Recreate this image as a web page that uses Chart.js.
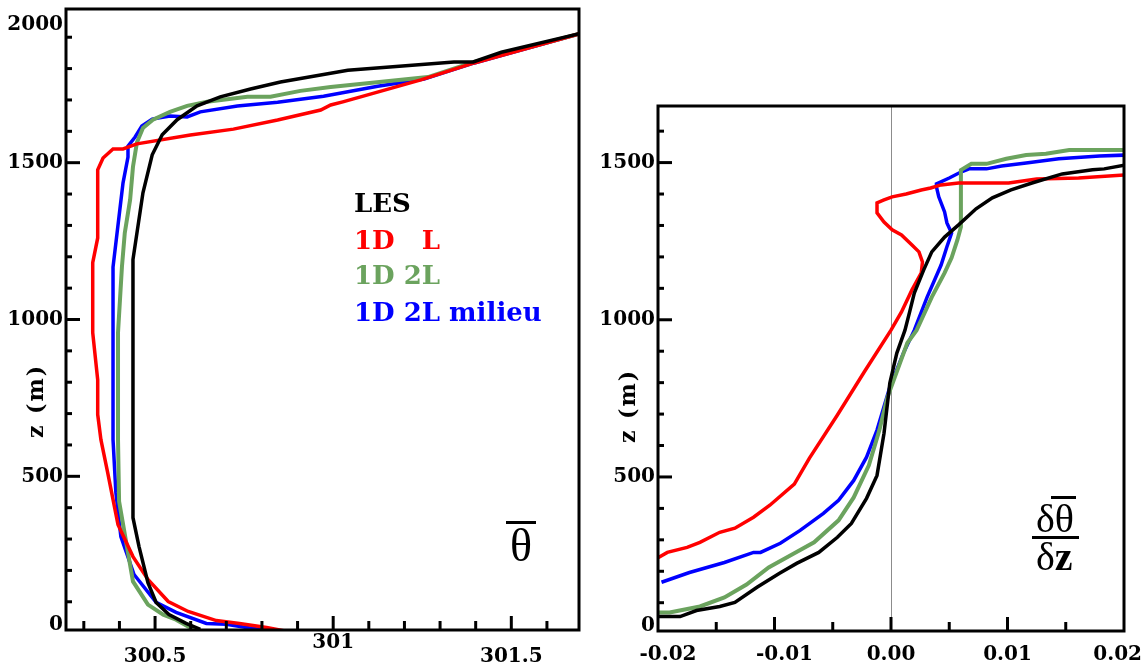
<!DOCTYPE html>
<html>
<head>
<meta charset="utf-8">
<script src="https://cdn.jsdelivr.net/npm/chart.js@4.4.0/dist/chart.umd.min.js"></script>
<style>
  body { margin: 0; background: #fff; }
  #page { position: relative; width: 1146px; height: 670px; overflow: hidden; }
  .panel { position: absolute; top: 0; height: 670px; }
  .txt { position: absolute; font-family: "DejaVu Serif", serif; font-weight: bold; white-space: pre; line-height: 1; }
  .ylab { width: 100px; height: 24px; line-height: 24px; text-align: center; font-size: 22px; letter-spacing: 2px; transform: rotate(-90deg); }
  .leg { font-size: 26px; }
  .sym { position: absolute; font-family: "Liberation Serif", serif; line-height: 1; }
  .bar { position: absolute; background: #000; }
</style>
</head>
<body>
<div id="page">
  <div class="panel" style="left:0;width:590px"><canvas id="thetaChart"></canvas></div>
  <div class="panel" style="left:590px;width:556px"><canvas id="gradChart"></canvas></div>

  <div class="txt ylab" style="left:-15px;top:389px">z (m)</div>
  <div class="txt ylab" style="left:577px;top:394px">z (m)</div>

  <div class="txt leg" style="left:354px;top:190px;color:#000">LES</div>
  <div class="txt leg" style="left:354px;top:227px;color:#ff0000">1D   L</div>
  <div class="txt leg" style="left:354px;top:262px;color:#6ba35e">1D 2L</div>
  <div class="txt leg" style="left:354px;top:299px;color:#0000ff">1D 2L milieu</div>

  <div class="bar" style="left:506px;top:521px;width:30px;height:3px"></div>
  <div class="sym" style="left:510px;top:523px;font-size:46px">θ</div>

  <div class="bar" style="left:1051px;top:496px;width:25px;height:3px"></div>
  <div class="sym" style="left:1036px;top:499px;font-size:40px">δθ</div>
  <div class="bar" style="left:1032px;top:536px;width:47px;height:3px"></div>
  <div class="sym" style="left:1036px;top:537px;font-size:40px">δ<b>z</b></div>
</div>

<script>
// ---- left panel: mean potential temperature (K) vs height (m)
const lesTheta = [301.697, 301.472, 301.393, 301.339, 301.041, 300.852, 300.768, 300.683, 300.618, 300.562, 300.520, 300.492, 300.466, 300.438, 300.438, 300.455, 300.480, 300.503, 300.539, 300.587, 300.627];
const lesZ     = [1913, 1852, 1821, 1821, 1795, 1757, 1735, 1710, 1681, 1637, 1589, 1525, 1404, 1191, 368, 276, 161, 98, 59, 31, 12];

const lTheta = [301.697, 301.396, 301.246, 301.077, 301.027, 300.993, 300.965, 300.844, 300.720, 300.599, 300.449, 300.410, 300.382, 300.354, 300.339, 300.339, 300.325, 300.325, 300.339, 300.339, 300.348, 300.367, 300.396, 300.438, 300.480, 300.537, 300.593, 300.672, 300.737, 300.813, 300.861];
const lZ     = [1913, 1818, 1764, 1710, 1694, 1684, 1668, 1636, 1607, 1588, 1560, 1544, 1544, 1515, 1477, 1260, 1181, 958, 808, 697, 617, 512, 346, 244, 171, 101, 69, 40, 31, 18, 8];

const twoLTheta = [301.697, 301.396, 301.266, 300.993, 300.908, 300.824, 300.759, 300.646, 300.590, 300.542, 300.494, 300.466, 300.449, 300.438, 300.430, 300.415, 300.407, 300.396, 300.396, 300.399, 300.438, 300.480, 300.523, 300.559, 300.607];
const twoLZ     = [1913, 1821, 1773, 1741, 1729, 1710, 1710, 1694, 1681, 1662, 1637, 1611, 1564, 1487, 1382, 1276, 1168, 958, 617, 420, 165, 91, 59, 43, 12];

const milieuTheta = [301.697, 301.396, 301.255, 301.125, 300.973, 300.844, 300.731, 300.627, 300.590, 300.542, 300.492, 300.463, 300.444, 300.424, 300.424, 300.410, 300.401, 300.382, 300.382, 300.390, 300.404, 300.441, 300.503, 300.559, 300.644, 300.700, 300.756, 300.813];
const milieuZ     = [1913, 1818, 1767, 1744, 1712, 1693, 1681, 1662, 1646, 1649, 1639, 1617, 1582, 1553, 1518, 1435, 1349, 1167, 617, 448, 308, 187, 98, 66, 31, 28, 18, 9];

// ---- right panel: vertical gradient of theta (K/m) vs height (m)
const lesGrad = [-0.0201, -0.0181, -0.0167, -0.0147, -0.0134, -0.0115, -0.0096, -0.0081, -0.0062, -0.0046, -0.0034, -0.0021, -0.0012, -0.0006, -0.0001, 0.0005, 0.0012, 0.0016, 0.0020, 0.0028, 0.0035, 0.0046, 0.0058, 0.0073, 0.0087, 0.0103, 0.0121, 0.0147, 0.0173, 0.0183, 0.0202];
const lesGradZ = [56, 56, 75, 88, 101, 149, 193, 225, 260, 308, 352, 432, 505, 639, 799, 894, 967, 1025, 1085, 1158, 1216, 1263, 1302, 1353, 1388, 1413, 1435, 1464, 1477, 1480, 1493];

const lGrad = [-0.0201, -0.0192, -0.0175, -0.0164, -0.0147, -0.0134, -0.0118, -0.0104, -0.0083, -0.0070, -0.0046, -0.0023, 0.0000, 0.0009, 0.0018, 0.0026, 0.0027, 0.0024, 0.0018, 0.0009, 0.0001, -0.0006, -0.0012, -0.0012, -0.0006, 0.0001, 0.0013, 0.0026, 0.0034, 0.0043, 0.0058, 0.0101, 0.0125, 0.0161, 0.0202];
const lGradZ = [241, 260, 276, 292, 324, 337, 372, 410, 477, 560, 697, 834, 967, 1025, 1095, 1149, 1184, 1216, 1238, 1270, 1286, 1311, 1340, 1372, 1381, 1391, 1400, 1413, 1419, 1429, 1435, 1435, 1448, 1451, 1461];

const twoLGrad = [-0.0201, -0.0190, -0.0164, -0.0143, -0.0124, -0.0105, -0.0083, -0.0066, -0.0045, -0.0032, -0.0019, -0.0010, -0.0003, 0.0014, 0.0022, 0.0035, 0.0046, 0.0052, 0.0057, 0.0060, 0.0060, 0.0069, 0.0082, 0.0099, 0.0116, 0.0133, 0.0153, 0.0202];
const twoLGradZ = [69, 69, 88, 117, 158, 212, 257, 292, 362, 435, 537, 649, 754, 926, 967, 1072, 1149, 1197, 1254, 1295, 1476, 1496, 1496, 1512, 1524, 1528, 1540, 1540];

const milieuGrad = [-0.0197, -0.0173, -0.0143, -0.0118, -0.0112, -0.0095, -0.0078, -0.0058, -0.0045, -0.0032, -0.0021, -0.0012, -0.0001, 0.0011, 0.0020, 0.0031, 0.0043, 0.0048, 0.0052, 0.0048, 0.0046, 0.0041, 0.0039, 0.0039, 0.0050, 0.0060, 0.0067, 0.0082, 0.0095, 0.0116, 0.0144, 0.0179, 0.0202];
const milieuGradZ = [165, 196, 228, 260, 260, 289, 330, 384, 426, 489, 563, 649, 786, 897, 967, 1072, 1174, 1232, 1276, 1308, 1343, 1391, 1423, 1432, 1451, 1470, 1480, 1480, 1489, 1499, 1512, 1521, 1524];

// ---- axis ticks
const zMajor = [0, 500, 1000, 1500, 2000];
const zMinor = [100, 200, 300, 400, 600, 700, 800, 900, 1100, 1200, 1300, 1400, 1600, 1700, 1800, 1900];
const thetaMajor = [300.5, 301, 301.5];
const thetaMinor = [300.3, 300.4, 300.6, 300.7, 300.8, 300.9, 301.1, 301.2, 301.3, 301.4, 301.6];
const thetaLabels = ['300.5', '301', '301.5'];
const gradMajor = [-0.02, -0.01, 0, 0.01, 0.02];
const gradMinor = [-0.015, -0.005, 0.005, 0.015];
const gradLabels = ['-0.02', '-0.01', '0.00', '0.01', '0.02'];

const BLACK = '#000000', RED = '#ff0000', GREEN = '#6ba35e', BLUE = '#0000ff';

const pairs = (xs, zs) => xs.map((v, i) => ({ x: v, y: zs[i] }));

// frame, inward ticks and tick labels (labels kept inside the axis span)
const frameTicks = {
  id: 'frameTicks',
  beforeDatasetsDraw(chart, args, o) {
    if (o.zeroLine === undefined) return;
    const { ctx, chartArea: a, scales: { x } } = chart;
    const px = Math.round(x.getPixelForValue(o.zeroLine)) + 0.5;
    ctx.save();
    ctx.strokeStyle = '#8c8c8c';
    ctx.lineWidth = 1;
    ctx.beginPath(); ctx.moveTo(px, a.top); ctx.lineTo(px, a.bottom); ctx.stroke();
    ctx.restore();
  },
  afterDatasetsDraw(chart, args, o) {
    const { ctx, chartArea: a, scales: { x, y } } = chart;
    ctx.save();
    ctx.strokeStyle = '#000';
    ctx.lineWidth = 3;
    const seg = (x1, y1, x2, y2) => { ctx.beginPath(); ctx.moveTo(x1, y1); ctx.lineTo(x2, y2); ctx.stroke(); };
    o.xMinor.forEach(v => { const p = x.getPixelForValue(v); seg(p, a.bottom, p, a.bottom - 9); });
    o.xMajor.forEach(v => { const p = x.getPixelForValue(v); if (p > a.left + 2 && p < a.right - 2) seg(p, a.bottom, p, a.bottom - 14); });
    o.yMinor.forEach(v => { const p = y.getPixelForValue(v); if (p > a.top + 2) seg(a.left, p, a.left + 6, p); });
    o.yMajor.forEach(v => { const p = y.getPixelForValue(v); if (p > a.top + 2 && p < a.bottom - 2) seg(a.left, p, a.left + 14, p); });
    ctx.strokeRect(a.left, a.top, a.right - a.left, a.bottom - a.top);

    ctx.fillStyle = '#000';
    ctx.font = 'bold 20px "DejaVu Serif"';
    ctx.textAlign = 'right';
    ctx.textBaseline = 'middle';
    o.yMajor.forEach(v => {
      const p = y.getPixelForValue(v);
      if (p < a.top - 20) return;
      ctx.fillText(String(v), a.left - 3, Math.min(Math.max(p, a.top + 16), a.bottom - 5));
    });
    ctx.textAlign = 'center';
    o.xMajor.forEach((v, i) => {
      const txt = o.xLabels[i];
      const w = ctx.measureText(txt).width;
      let p = x.getPixelForValue(v) + (v < 0 ? o.negShift : 0);
      p = Math.min(p, chart.width - 4 - w / 2);
      const ly = o.raised.includes(v) ? o.xLabelY - 14 : o.xLabelY;
      ctx.fillText(txt, p, ly);
    });
    ctx.restore();
  }
};

const lineSet = (label, data, color, width) => ({
  label, data, borderColor: color, borderWidth: width,
  showLine: true, fill: false, pointRadius: 0, tension: 0
});

function makeChart(id, datasets, xr, yr, pad, ticks) {
  return new Chart(document.getElementById(id), {
    type: 'scatter',
    data: { datasets },
    options: {
      responsive: true,
      maintainAspectRatio: false,
      animation: false,
      layout: { padding: pad },
      scales: {
        x: { type: 'linear', min: xr[0], max: xr[1], display: false },
        y: { type: 'linear', min: yr[0], max: yr[1], display: false }
      },
      plugins: { legend: { display: false }, tooltip: { enabled: false }, frameTicks: ticks }
    },
    plugins: [frameTicks]
  });
}

makeChart('thetaChart', [
  lineSet('LES', pairs(lesTheta, lesZ), BLACK, 3.5),
  lineSet('1D L', pairs(lTheta, lZ), RED, 3.5),
  lineSet('1D 2L', pairs(twoLTheta, twoLZ), GREEN, 4),
  lineSet('1D 2L milieu', pairs(milieuTheta, milieuZ), BLUE, 3.5)
], [300.25, 301.69], [10, 1990], { left: 66, top: 9, right: 11, bottom: 40 }, {
  xMajor: thetaMajor, xMinor: thetaMinor, xLabels: thetaLabels, raised: [301],
  yMajor: zMajor, yMinor: zMinor, xLabelY: 657, negShift: 0
});

makeChart('gradChart', [
  lineSet('LES', pairs(lesGrad, lesGradZ), BLACK, 3.5),
  lineSet('1D L', pairs(lGrad, lGradZ), RED, 3.5),
  lineSet('1D 2L', pairs(twoLGrad, twoLGradZ), GREEN, 4),
  lineSet('1D 2L milieu', pairs(milieuGrad, milieuGradZ), BLUE, 3.5)
], [-0.02, 0.02], [10, 1680], { left: 68, top: 106, right: 22, bottom: 39 }, {
  xMajor: gradMajor, xMinor: gradMinor, xLabels: gradLabels, raised: [],
  yMajor: zMajor, yMinor: zMinor, xLabelY: 655, negShift: 10, zeroLine: 0
});
</script>
</body>
</html>
